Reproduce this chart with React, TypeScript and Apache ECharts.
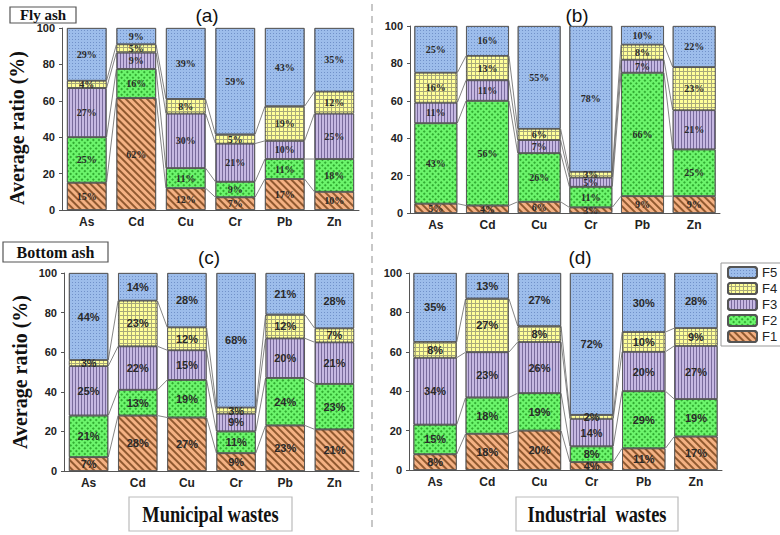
import React, { useEffect, useRef } from "react";
import * as echarts from "echarts";

const categories = ["As", "Cd", "Cu", "Cr", "Pb", "Zn"];
const fractions = ["F1", "F2", "F3", "F4", "F5"];
const panelTitles = ["(a)", "(b)", "(c)", "(d)"];
const yTicks = [0, 20, 40, 60, 80, 100];

// (a) Fly ash – Municipal wastes
const aF1 = [15, 61.5, 12, 7, 17, 10];
const aF2 = [25, 16, 11, 8.5, 11, 18];
const aF3 = [27, 9, 30, 21, 10, 25];
const aF4 = [4, 4.5, 8, 5, 19, 12];
const aF5 = [29, 9, 39, 58.5, 43, 35];
// (b) Fly ash – Industrial wastes
const bF1 = [5, 4, 6, 3, 9, 9];
const bF2 = [43, 56, 26, 11, 66, 25];
const bF3 = [11, 11, 7, 5, 7, 21];
const bF4 = [16, 13, 6, 3, 8, 23];
const bF5 = [25, 16, 55, 78, 10, 22];
// (c) Bottom ash – Municipal wastes
const cF1 = [7, 28, 27, 9, 23, 21];
const cF2 = [21, 13, 19, 11, 24, 23];
const cF3 = [25, 22, 15, 9, 20, 21];
const cF4 = [3, 23, 11.5, 3, 12, 7];
const cF5 = [44, 14, 27.5, 68, 21, 28];
// (d) Bottom ash – Industrial wastes
const dF1 = [8, 18.4, 20, 4, 11, 17];
const dF2 = [15, 18.4, 19, 8, 29, 19];
const dF3 = [34, 23, 26, 14, 20, 27];
const dF4 = [8, 27.2, 8, 2, 10, 9];
const dF5 = [35, 13, 27, 72, 30, 28];

const panelData = [
  [aF1, aF2, aF3, aF4, aF5],
  [bF1, bF2, bF3, bF4, bF5],
  [cF1, cF2, cF3, cF4, cF5],
  [dF1, dF2, dF3, dF4, dF5],
];

const layout = [
  { left: 62, top: 28, width: 297, height: 182, gap: 0.2, serif: true, tx: 207, ty: 15 },
  { left: 410, top: 26, width: 310, height: 187, gap: 0.17, serif: true, tx: 577, ty: 15 },
  { left: 64, top: 273, width: 295, height: 198, gap: 0.2, serif: false, tx: 209, ty: 257 },
  { left: 409, top: 273, width: 313, height: 197, gap: 0.17, serif: false, tx: 580, ty: 257 },
];

const baseColors = ["#F4B183", "#6CF56C", "#C6B8E2", "#A9A97A", "#9DBDEB"];
const decals: any[] = [
  { symbol: "rect", symbolSize: 1, dashArrayX: [1, 0], dashArrayY: [1.3, 3], rotation: Math.PI / 4, color: "rgba(110,60,20,0.75)" },
  { symbol: "rect", symbolSize: 1, dashArrayX: [1.5, 1.5], dashArrayY: [1.5, 1.5], rotation: Math.PI / 4, color: "rgba(0,110,0,0.55)" },
  { symbol: "rect", symbolSize: 1, dashArrayX: [1, 2], dashArrayY: [1, 0], rotation: 0, color: "rgba(70,55,110,0.6)" },
  { symbol: "rect", symbolSize: 1, dashArrayX: [3, 1], dashArrayY: [3, 1], rotation: 0, color: "#FFFF99" },
  { symbol: "rect", symbolSize: 1, dashArrayX: [1, 2], dashArrayY: [1, 2], rotation: 0, color: "rgba(60,90,160,0.45)" },
];

export default function App() {
  const ref = useRef<HTMLDivElement>(null);
  useEffect(() => {
    if (!ref.current) return;
    const chart = echarts.init(ref.current, null, { renderer: "svg" });
    const grids: any[] = [];
    const xAxes: any[] = [];
    const yAxes: any[] = [];
    const series: any[] = [];
    const graphics: any[] = [];

    layout.forEach((L, p) => {
      grids.push({ left: L.left, top: L.top, width: L.width, height: L.height });
      xAxes.push({
        type: "category",
        gridIndex: p,
        data: categories,
        axisLine: { lineStyle: { color: "#555", width: 1 } },
        axisTick: { show: false },
        axisLabel: { fontFamily: "Liberation Sans", fontWeight: "bold", fontSize: 12, color: "#222", margin: 6 },
      });
      yAxes.push({
        type: "value",
        gridIndex: p,
        min: yTicks[0],
        max: yTicks[yTicks.length - 1],
        interval: 20,
        axisLine: { show: true, lineStyle: { color: "#555", width: 1 } },
        axisTick: { show: true, length: 3, lineStyle: { color: "#555" } },
        splitLine: { show: false },
        axisLabel: { fontFamily: "Liberation Sans", fontWeight: "bold", fontSize: 11, color: "#222", margin: 7 },
      });
      const vals = panelData[p];
      fractions.forEach((f, k) => {
        series.push({
          name: f,
          type: "bar",
          xAxisIndex: p,
          yAxisIndex: p,
          stack: "s" + p,
          barCategoryGap: Math.round(L.gap * 100) + "%",
          data: vals[k],
          itemStyle: { color: baseColors[k], borderColor: "#555", borderWidth: 0.8, decal: decals[k] },
          label: {
            show: true,
            position: "inside",
            formatter: (d: any) => Math.round(d.value) + "%",
            fontFamily: L.serif ? "Liberation Serif" : "Liberation Sans",
            fontWeight: "bold",
            fontSize: L.serif ? 10 : 11,
            color: "#2a2a2a",
          },
        });
      });
      series.push({
        type: "custom",
        xAxisIndex: p,
        yAxisIndex: p,
        silent: true,
        data: [[0, 0], [1, 0], [2, 0], [3, 0], [4, 0]],
        encode: { x: 0, y: 1 },
        renderItem: (params: any, api: any) => {
          const i = api.value(0);
          const halfW = (api.size([1, 0])[0] * (1 - L.gap)) / 2;
          const children: any[] = [];
          let ca = 0;
          let cb = 0;
          for (let k = 0; k < 4; k++) {
            ca += vals[k][i];
            cb += vals[k][i + 1];
            const p1 = api.coord([i, ca]);
            const p2 = api.coord([i + 1, cb]);
            children.push({
              type: "line",
              shape: { x1: p1[0] + halfW, y1: p1[1], x2: p2[0] - halfW, y2: p2[1] },
              style: { stroke: "#666", lineWidth: 0.8 },
            });
          }
          return { type: "group", children };
        },
      });
      graphics.push({
        type: "text",
        x: L.tx,
        y: L.ty,
        style: { text: panelTitles[p], fontFamily: "Liberation Sans", fontSize: 19, fill: "#111", align: "center", verticalAlign: "middle" },
      });
    });

    // y axis titles
    [128, 372].forEach((cy, i) => {
      graphics.push({
        type: "text",
        x: i === 0 ? 17 : 20,
        y: cy,
        rotation: Math.PI / 2,
        style: {
          text: "Average ratio (%)",
          fontFamily: "Liberation Serif",
          fontWeight: "bold",
          fontSize: 20,
          fill: "#111",
          align: "center",
          verticalAlign: "middle",
        },
      });
    });

    // boxed labels
    const boxes = [
      { x: 10, y: 7, w: 66, h: 16, text: "Fly ash", size: 15, sx: 1, stroke: "#555" },
      { x: 3, y: 242, w: 105, h: 20, text: "Bottom ash", size: 16, sx: 1, stroke: "#555" },
      { x: 129, y: 497, w: 163, h: 34, text: "Municipal wastes", size: 23, sx: 0.8, stroke: "#bbb" },
      { x: 516, y: 497, w: 162, h: 34, text: "Industrial  wastes", size: 23, sx: 0.8, stroke: "#bbb" },
    ];
    boxes.forEach((b) => {
      graphics.push({
        type: "rect",
        shape: { x: b.x, y: b.y, width: b.w, height: b.h },
        style: { fill: "#fff", stroke: b.stroke, lineWidth: 1.2 },
      });
      graphics.push({
        type: "text",
        x: b.x + b.w / 2,
        y: b.y + b.h / 2,
        scaleX: b.sx,
        style: {
          text: b.text,
          fontFamily: "Liberation Serif",
          fontWeight: "bold",
          fontSize: b.size,
          fill: "#111",
          align: "center",
          verticalAlign: "middle",
        },
      });
    });

    graphics.push({
      type: "line",
      shape: { x1: 372, y1: 4, x2: 372, y2: 532 },
      style: { stroke: "#aaa", lineWidth: 1.3, lineDash: [7, 5] },
    });

    chart.setOption({
      animation: false,
      backgroundColor: "#fff",
      aria: { enabled: true, decal: { show: true } },
      grid: grids,
      xAxis: xAxes,
      yAxis: yAxes,
      series,
      legend: {
        data: ["F5", "F4", "F3", "F2", "F1"],
        orient: "vertical",
        left: 721,
        top: 263,
        itemWidth: 29,
        itemHeight: 11,
        itemGap: 3,
        padding: [3, 4, 3, 6],
        borderColor: "#999",
        borderWidth: 1,
        selectedMode: false,
        textStyle: { fontFamily: "Liberation Sans", fontSize: 13, color: "#222" },
      },
      graphic: graphics,
    });
    return () => chart.dispose();
  }, []);
  return <div ref={ref} style={{ position: "fixed", left: 0, top: 0, width: 780, height: 535 }} />;
}
